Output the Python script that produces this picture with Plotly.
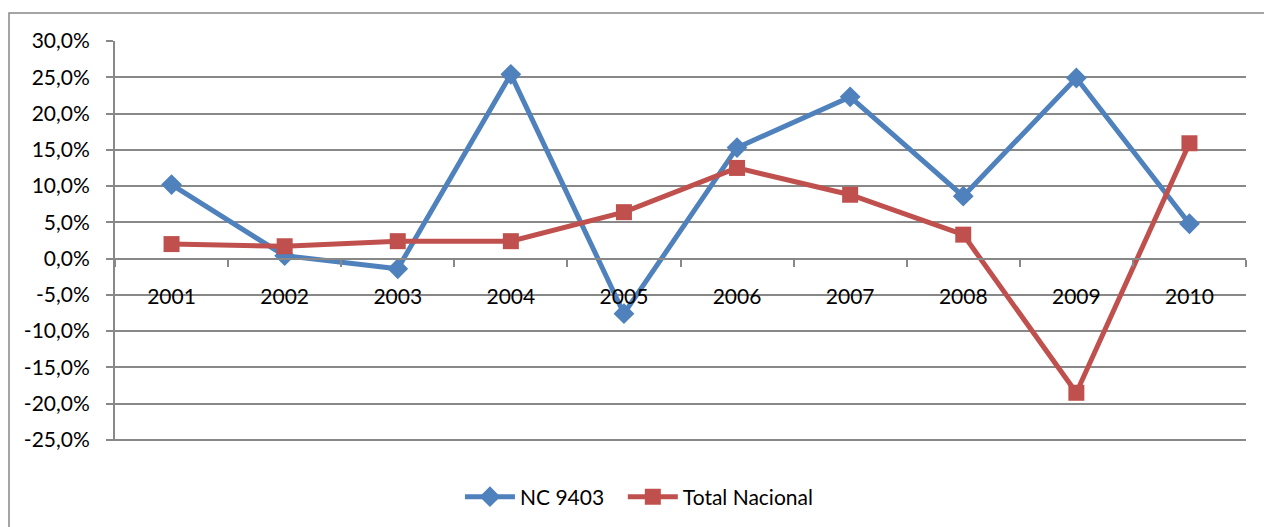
import plotly.graph_objects as go

# Annual variation (%) by year
years = ["2001", "2002", "2003", "2004", "2005", "2006", "2007", "2008", "2009", "2010"]
nc_9403 = [10.2, 0.4, -1.4, 25.4, -7.6, 15.3, 22.3, 8.6, 24.9, 4.8]
total_nacional = [2.0, 1.7, 2.4, 2.4, 6.4, 12.5, 8.8, 3.3, -18.5, 15.9]

y_ticks = [30, 25, 20, 15, 10, 5, 0, -5, -10, -15, -20, -25]
y_tick_text = [f"{v:.1f}%".replace(".", ",") for v in y_ticks]

BLUE = "#4F81BD"
RED = "#C0504D"
GRID = "#888888"
FONT = "Lato"
FS = 21

fig = go.Figure()
fig.add_trace(go.Scatter(
    x=years, y=nc_9403, name="NC 9403", mode="lines+markers",
    line=dict(color=BLUE, width=5),
    marker=dict(symbol="diamond", size=16, color=BLUE),
    legend="legend",
))
fig.add_trace(go.Scatter(
    x=years, y=total_nacional, name="Total Nacional", mode="lines+markers",
    line=dict(color=RED, width=5),
    marker=dict(symbol="square", size=16, color=RED),
    legend="legend2",
))

y_min, y_max = -25, 30
# small pad so the bottom gridline is still drawn
y_lo = y_min - 0.15

legend_style = dict(
    orientation="h", xanchor="left", y=-0.14, yanchor="middle",
    font=dict(family=FONT, size=FS, color="black"),
    bgcolor="rgba(0,0,0,0)", itemwidth=50,
)

fig.update_layout(
    width=1264, height=527,
    margin=dict(l=115, r=18, t=41, b=86, autoexpand=False),
    paper_bgcolor="white", plot_bgcolor="white",
    font=dict(family=FONT, size=FS, color="black"),
    showlegend=True,
    legend=dict(x=0.305, **legend_style),
    legend2=dict(x=0.449, **legend_style),
    xaxis=dict(
        type="category", categoryorder="array", categoryarray=years,
        range=[-0.5, len(years) - 0.5],
        anchor="free", position=(0 - y_lo) / (y_max - y_lo),
        showgrid=False, zeroline=False,
        showline=True, linecolor=GRID, linewidth=2,
        ticks="outside", tickson="boundaries", ticklen=7,
        tickcolor=GRID, tickwidth=2,
        ticklabelstandoff=19,
        tickfont=dict(family=FONT, size=FS, color="black"),
    ),
    yaxis=dict(
        range=[y_lo, y_max], tickmode="array",
        tickvals=y_ticks, ticktext=y_tick_text,
        showgrid=True, gridcolor=GRID, gridwidth=2,
        zeroline=False,
        showline=True, linecolor=GRID, linewidth=2,
        ticks="outside", ticklen=7, tickcolor=GRID, tickwidth=2,
        ticklabelstandoff=12,
        tickfont=dict(family=FONT, size=FS, color="black"),
    ),
)

# Chart frame around the whole drawing area
fig.add_shape(
    type="rect", xref="paper", yref="paper",
    x0=(9 - 115) / 1131, x1=(1290 - 115) / 1131,
    y0=-(560 - 441) / 400, y1=1 + (41 - 13) / 400,
    line=dict(color=GRID, width=1.5), fillcolor="rgba(0,0,0,0)", layer="below",
)

fig.write_html("out.html")
